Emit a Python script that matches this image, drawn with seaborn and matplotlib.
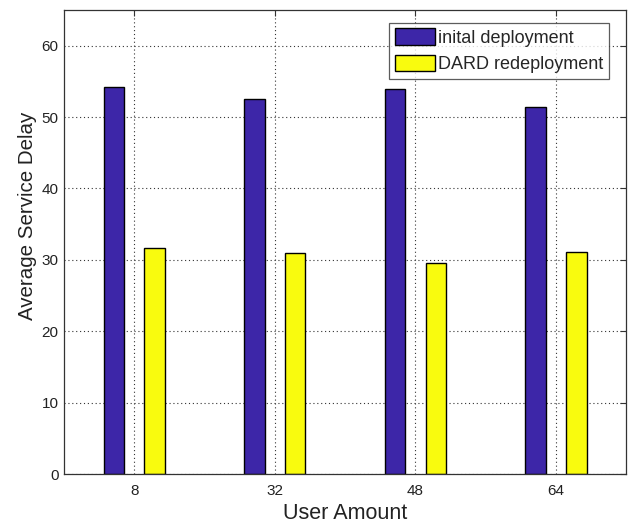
import matplotlib
matplotlib.use("Agg")
import matplotlib.pyplot as plt
import seaborn as sns
import pandas as pd

categories = ["8", "32", "48", "64"]
initial = [54.2, 52.5, 53.9, 51.4]
dard = [31.6, 31.0, 29.6, 31.1]
series_names = ["inital deployment", "DARD redeployment"]
colors = ["#3D26A8", "#F9FB0E"]

df = pd.DataFrame({
    "User Amount": categories * 2,
    "value": initial + dard,
    "series": [series_names[0]] * 4 + [series_names[1]] * 4,
})

sns.set_style("white")
plt.rcParams["font.family"] = ["Liberation Sans", "DejaVu Sans"]

fig = plt.figure(figsize=(6.32, 5.25), dpi=100)
ax = fig.add_axes([0.1013, 0.0971, 0.8897, 0.8839])

sns.barplot(data=df, x="User Amount", y="value", hue="series", order=categories,
            hue_order=series_names, palette=colors, width=0.58, gap=0.5,
            edgecolor="black", linewidth=1.0, saturation=1, ax=ax, errorbar=None)

ax.set_xlim(-0.5, 3.5)
ax.set_ylim(0, 65)
ax.set_yticks(range(0, 61, 10))
ax.set_axisbelow(True)
ax.grid(True, linestyle=(0, (1, 2.5)), color="#333333", linewidth=0.8)
ax.tick_params(direction="in", length=4, width=0.8, labelsize=11, top=True, right=True,
               color="#333333", labelcolor="#222222")
ax.tick_params(axis="x", pad=7)
ax.tick_params(axis="y", pad=4)
for s in ax.spines.values():
    s.set_color("#333333")
    s.set_linewidth(0.9)
ax.set_xlabel("User Amount", fontsize=15.5, color="#222222", labelpad=4)
ax.set_ylabel("Average Service Delay", fontsize=14.8, color="#222222")
ax.yaxis.set_label_coords(-0.048, 0.556)

leg = ax.legend(loc="upper right", fontsize=13, frameon=True, fancybox=False,
                edgecolor="#333333", handlelength=2.2, handleheight=1.05,
                handletextpad=0.2, borderpad=0.32, labelspacing=0.42,
                borderaxespad=0, bbox_to_anchor=(0.9698, 0.9726))
leg.get_frame().set_linewidth(0.9)

fig.savefig("out.png", dpi=100)
